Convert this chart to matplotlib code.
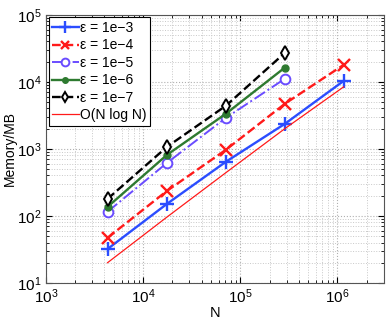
import numpy as np
import matplotlib
matplotlib.use('Agg')
import matplotlib.pyplot as plt

plt.rcParams['font.family'] = ['Liberation Sans', 'DejaVu Sans']
plt.rcParams['mathtext.fontset'] = 'custom'
plt.rcParams['mathtext.rm'] = 'Liberation Sans'

# problem sizes
N = [4300, 17600, 71000, 288000, 1160000]

# memory usage (MB) per tolerance
mem_1e3 = [32, 151, 640, 2360, 10300]
mem_1e4 = [47, 236, 966, 4700, 17900]
mem_1e5 = [115, 617, 2890, 11100]
mem_1e6 = [136, 813, 3330, 16300]
mem_1e7 = [179, 1070, 4380, 27000]
ref_nlogn = [20, 96, 440, 2000, 8400]

fig = plt.figure(figsize=(3.9, 3.2), dpi=100)
ax = fig.add_axes([0.118, 0.116, 0.866, 0.838])

ax.loglog(N, mem_1e3, '-', color='#2b4dff', lw=1.7, marker='+', ms=10, mew=1.7,
          label='ε = 1e−3')
ax.loglog(N, mem_1e4, '--', color='#ff1a1a', lw=1.7, marker='x', ms=8, mew=1.7,
          label='ε = 1e−4')
ax.loglog(N[:4], mem_1e5, '-.', color='#6a4cff', lw=1.4, marker='o', ms=7, mew=1.4,
          mfc='white', label='ε = 1e−5')
ax.loglog(N[:4], mem_1e6, '-', color='#2e7a30', lw=1.7, marker='o', ms=5,
          label='ε = 1e−6')
ax.loglog(N[:4], mem_1e7, '--', color='black', lw=1.7, marker='d', ms=7, mew=1.4,
          mfc='white', label='ε = 1e−7')
ax.loglog(N, ref_nlogn, '-', color='#ff1a1a', lw=0.9, label='O(N log N)')

ax.set_xlim(1e3, 3e6)
ax.set_ylim(1e1, 1e5)
ax.set_xlabel('N', fontsize=10.5, labelpad=0)
ax.set_ylabel('Memory/MB', fontsize=10, labelpad=0)

ax.grid(True, which='major', ls=':', color='#b0b0b0', lw=0.8)
ax.grid(True, which='minor', ls=':', color='#c8c8c8', lw=0.7)
ax.tick_params(which='both', direction='in', top=True, right=True, labelsize=11)
ax.tick_params(which='major', length=4)
ax.tick_params(which='minor', length=2)
ax.xaxis.set_minor_formatter(plt.NullFormatter())
ax.yaxis.set_minor_formatter(plt.NullFormatter())
for s in ax.spines.values():
    s.set_color('#555555')

handler_map = {}
leg = ax.legend(loc='upper left', fontsize=10, handlelength=1.9, handletextpad=0.1,
                labelspacing=0.25, borderpad=0.25, borderaxespad=0.2, fancybox=False,
                framealpha=1, markerscale=0.8)
leg.get_frame().set_edgecolor('black')
leg.get_frame().set_linewidth(0.8)

fig.savefig('out.png', dpi=100)
